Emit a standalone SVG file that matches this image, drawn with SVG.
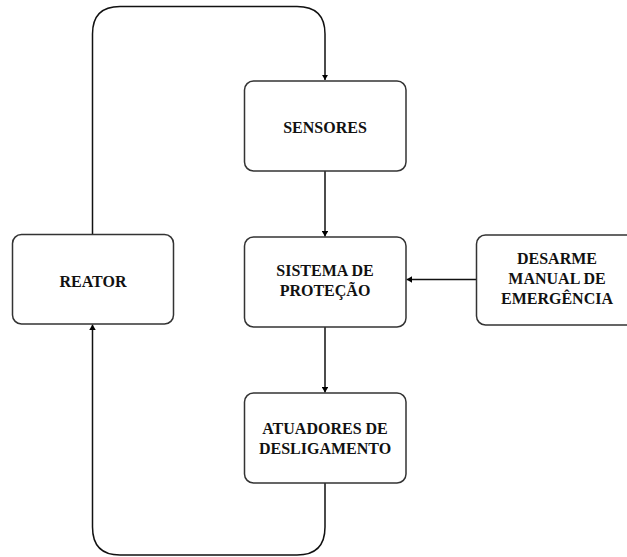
<svg xmlns="http://www.w3.org/2000/svg" width="627" height="557" viewBox="0 0 627 557">
<defs>
<marker id="arr" viewBox="0 0 10 10" refX="10" refY="5" markerWidth="5.5" markerHeight="6.5" orient="auto" markerUnits="userSpaceOnUse" preserveAspectRatio="none">
<path d="M0,0 L10,5 L0,10 z" fill="#000"/>
</marker>
<style>
.box{fill:#fff;stroke:#333;stroke-width:1.5}
.lbl{font-family:"Liberation Serif","Times New Roman",serif;font-weight:bold;font-size:16px;fill:#111;text-anchor:middle}
.conn{fill:none;stroke:#111;stroke-width:1.5}
</style>
</defs>
<rect width="627" height="557" fill="#fff"/>
<g id="connectors">
<path class="conn" d="M92.5,234 L92.5,34 Q92.5,6.5 120,6.5 L297,6.5 Q325,6.5 325,34 L325,80" marker-end="url(#arr)"/>
<path class="conn" d="M325,171 L325,236.5" marker-end="url(#arr)"/>
<path class="conn" d="M325,327 L325,392.5" marker-end="url(#arr)"/>
<path class="conn" d="M476,279.5 L406.5,279.5" marker-end="url(#arr)"/>
<path class="conn" d="M325,483 L325,527 Q325,555 297,555 L120,555 Q92.5,555 92.5,527 L92.5,324.5" marker-end="url(#arr)"/>
</g>
<g id="reator">
<rect class="box" x="12.5" y="234.5" width="161" height="89.5" rx="9"/>
<text class="lbl" x="93" y="286.5">REATOR</text>
</g>
<g id="sensores">
<rect class="box" x="244.5" y="81" width="161.5" height="90" rx="9"/>
<text class="lbl" x="325" y="132.5">SENSORES</text>
</g>
<g id="sistema">
<rect class="box" x="244.5" y="237" width="161.5" height="90" rx="9"/>
<text class="lbl" x="325" y="276">SISTEMA DE</text>
<text class="lbl" x="325" y="296">PROTEÇÃO</text>
</g>
<g id="desarme">
<rect class="box" x="476.5" y="235" width="162" height="90" rx="9"/>
<text class="lbl" x="557" y="264">DESARME</text>
<text class="lbl" x="557" y="284">MANUAL DE</text>
<text class="lbl" x="557" y="304">EMERGÊNCIA</text>
</g>
<g id="atuadores">
<rect class="box" x="244.5" y="393" width="161.5" height="90" rx="9"/>
<text class="lbl" x="325" y="433.5">ATUADORES DE</text>
<text class="lbl" x="325" y="453.5">DESLIGAMENTO</text>
</g>
</svg>
